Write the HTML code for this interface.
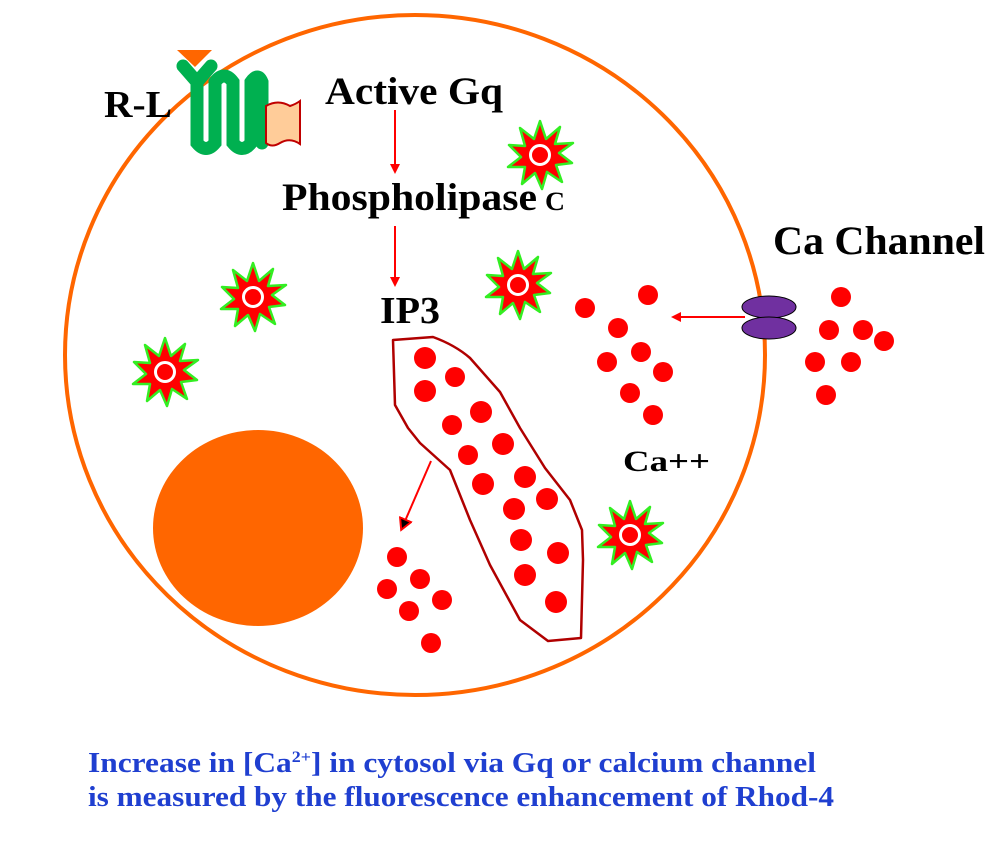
<!DOCTYPE html>
<html><head><meta charset="utf-8"><style>
html,body{margin:0;padding:0;background:#fff;}
svg{display:block;}
text{font-family:"Liberation Serif",serif;font-weight:bold;}
</style></head><body>
<svg width="1002" height="844" viewBox="0 0 1002 844" xmlns="http://www.w3.org/2000/svg">
<defs>
<g id="star">
<polygon points="0,-34 6,-16 20,-28 15,-11 33,-12 19,-2 32,8 16,10 22,27 7,17 2,34 -5,18 -18,29 -15,12 -32,12 -19,2 -31,-10 -15,-9 -20,-27 -6,-16" fill="#ff0000" stroke="#33ee22" stroke-width="2.5" stroke-linejoin="round"/>
<circle r="9.5" fill="none" stroke="#fff" stroke-width="3"/>
</g>
<marker id="ah" markerWidth="10" markerHeight="10" refX="8" refY="5" orient="auto" markerUnits="userSpaceOnUse"><path d="M0,0 L10,5 L0,10 z" fill="#ff0000"/></marker>
<marker id="ah2" markerWidth="14" markerHeight="14" refX="10" refY="7" orient="auto" markerUnits="userSpaceOnUse"><path d="M1,1 L12,7 L1,13 z" fill="#000" stroke="#ff0000" stroke-width="2"/></marker>
</defs>
<ellipse cx="415" cy="355" rx="350" ry="340" fill="none" stroke="#ff6600" stroke-width="4"/>
<ellipse cx="258" cy="528" rx="105" ry="98" fill="#ff6600"/>
<polygon points="177,50 212,50 195,67" fill="#ff6600"/>
<g stroke="#00b050" stroke-width="13" fill="none" stroke-linecap="round">
<path d="M183,66 L197,82 L211,66"/>
<path d="M197,82 L197,143 Q206,154 215,143 L215,82 Q224,70 233,82 L233,143 Q242,154 251,143 L251,82 Q258,72 262,82 L262,143"/>
</g>
<path d="M266,106 Q278,99 290,106 Q296,104 300,101 L300,144 Q290,137 280,143 Q272,148 266,143 z" fill="#ffcc99" stroke="#c00000" stroke-width="2"/>
<path d="M393,340 L433,337 Q455,345 470,358 L500,392 L520,428 L545,468 L570,500 L582,530 L583,560 L581,638 L548,641 L520,620 L490,565 L470,520 L450,470 L420,443 L408,428 L395,405 Z" fill="none" stroke="#b00000" stroke-width="2.5" stroke-linejoin="round"/>
<g fill="#ff0000">
<circle cx="425" cy="358" r="11"/><circle cx="455" cy="377" r="10"/><circle cx="425" cy="391" r="11"/><circle cx="481" cy="412" r="11"/><circle cx="452" cy="425" r="10"/><circle cx="503" cy="444" r="11"/><circle cx="468" cy="455" r="10"/><circle cx="525" cy="477" r="11"/><circle cx="483" cy="484" r="11"/><circle cx="547" cy="499" r="11"/><circle cx="514" cy="509" r="11"/><circle cx="521" cy="540" r="11"/><circle cx="558" cy="553" r="11"/><circle cx="525" cy="575" r="11"/><circle cx="556" cy="602" r="11"/>
<circle cx="397" cy="557" r="10"/><circle cx="420" cy="579" r="10"/><circle cx="387" cy="589" r="10"/><circle cx="442" cy="600" r="10"/><circle cx="409" cy="611" r="10"/><circle cx="431" cy="643" r="10"/>
<circle cx="585" cy="308" r="10"/><circle cx="648" cy="295" r="10"/><circle cx="618" cy="328" r="10"/><circle cx="641" cy="352" r="10"/><circle cx="607" cy="362" r="10"/><circle cx="663" cy="372" r="10"/><circle cx="630" cy="393" r="10"/><circle cx="653" cy="415" r="10"/>
<circle cx="841" cy="297" r="10"/><circle cx="829" cy="330" r="10"/><circle cx="863" cy="330" r="10"/><circle cx="884" cy="341" r="10"/><circle cx="815" cy="362" r="10"/><circle cx="851" cy="362" r="10"/><circle cx="826" cy="395" r="10"/>
</g>
<use href="#star" x="540" y="155"/><use href="#star" x="253" y="297"/><use href="#star" x="165" y="372"/><use href="#star" x="518" y="285"/><use href="#star" x="630" y="535"/>
<ellipse cx="769" cy="307" rx="27" ry="11" fill="#7030a0" stroke="#000" stroke-width="1"/>
<ellipse cx="769" cy="328" rx="27" ry="11" fill="#7030a0" stroke="#000" stroke-width="1"/>
<g stroke="#ff0000" stroke-width="2" fill="none">
<line x1="745" y1="317" x2="673" y2="317" marker-end="url(#ah)"/>
<line x1="395" y1="110" x2="395" y2="172" marker-end="url(#ah)"/>
<line x1="395" y1="226" x2="395" y2="285" marker-end="url(#ah)"/>
<line x1="431" y1="461" x2="402" y2="528" marker-end="url(#ah2)"/>
</g>
<text x="104" y="117" font-size="38" textLength="68" lengthAdjust="spacingAndGlyphs">R-L</text>
<text x="325" y="104" font-size="39" textLength="178" lengthAdjust="spacingAndGlyphs">Active Gq</text>
<text x="282" y="210" font-size="39" textLength="255" lengthAdjust="spacingAndGlyphs">Phospholipase</text>
<text x="545" y="210" font-size="26" textLength="20" lengthAdjust="spacingAndGlyphs">C</text>
<text x="380" y="323" font-size="38" textLength="60" lengthAdjust="spacingAndGlyphs">IP3</text>
<text x="773" y="254" font-size="40" textLength="212" lengthAdjust="spacingAndGlyphs">Ca Channel</text>
<text x="623" y="471" font-size="30" textLength="87" lengthAdjust="spacingAndGlyphs">Ca++</text>
<text x="88" y="772" font-size="28" fill="#1f3fd0" textLength="728" lengthAdjust="spacingAndGlyphs">Increase in [Ca<tspan font-size="16" dy="-10">2+</tspan><tspan dy="10">] in cytosol via Gq or calcium channel</tspan></text>
<text x="88" y="806" font-size="28" fill="#1f3fd0" textLength="746" lengthAdjust="spacingAndGlyphs">is measured by the fluorescence enhancement of Rhod-4</text>
</svg>
</body></html>
